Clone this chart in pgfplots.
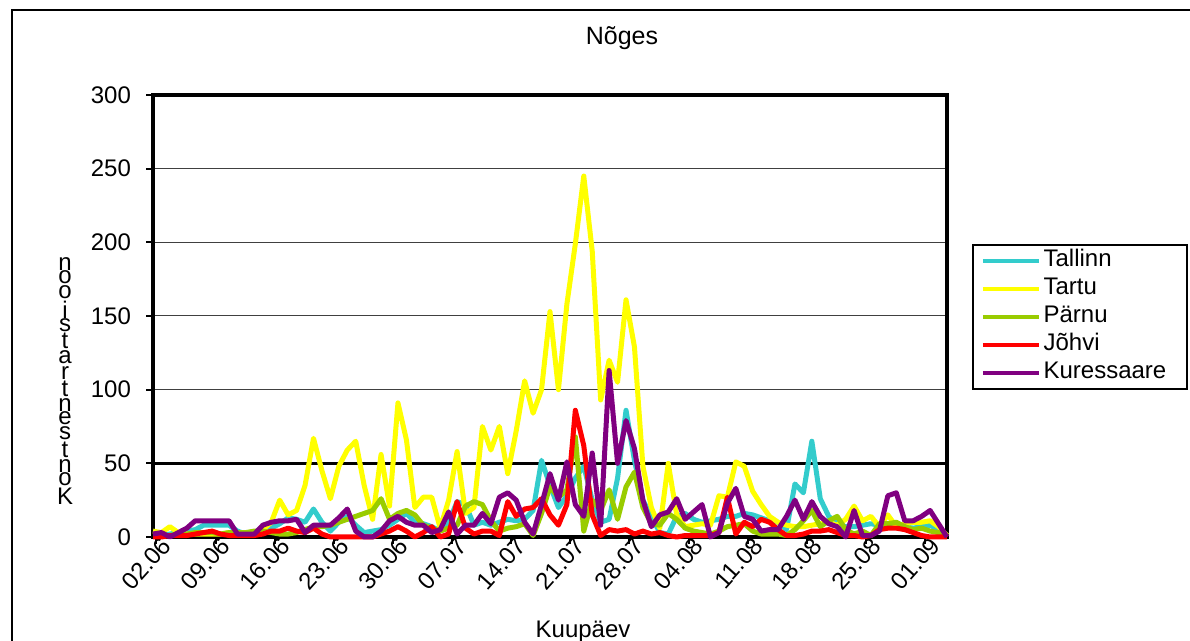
\documentclass[border=0pt]{standalone}
\usepackage{pgfplots}
\pgfplotsset{compat=1.18}
\usepackage{pgfplotstable}
\usepackage{fontspec}
\setmainfont{Liberation Sans}
\definecolor{ctal}{RGB}{51,204,204}
\definecolor{ctar}{RGB}{255,255,0}
\definecolor{cpar}{RGB}{153,204,0}
\definecolor{cjoh}{RGB}{255,0,0}
\definecolor{ckur}{RGB}{128,0,128}

\pgfplotstableread{
j tal tar par joh kur
0 1 4 1 0 2
1 1 3 1 0 3
2 2 7 1 1 0
3 3 3 2 1 3
4 4 2 2 1 6
5 5 2 3 2 11
6 8 2 3 3 11
7 8 2 3 4 11
8 8 2 2 2 11
9 8 3 3 1 11
10 4 2 3 1 2
11 2 2 3 1 2
12 2 3 4 1 2
13 3 5 4 2 8
14 6 10 3 4 10
15 9 25 2 4 11
16 13 15 2 6 11
17 12 18 3 4 12
18 10 35 5 3 3
19 19 67 7 6 8
20 10 45 7 2 8
21 4 26 8 0 8
22 10 48 10 0 13
23 14 59 12 0 19
24 8 65 14 0 4
25 3 35 16 0 0
26 4 12 18 0 0
27 5 56 26 2 4
28 8 21 12 4 11
29 12 91 16 7 14
30 16 66 18 4 10
31 10 20 15 0 8
32 9 27 8 3 8
33 7 27 6 7 3
34 4 6 4 0 5
35 10 25 6 2 17
36 24 58 8 24 2
37 22 16 21 6 8
38 8 20 24 2 8
39 10 75 22 4 16
40 8 59 11 4 9
41 10 75 4 1 27
42 12 43 6 24 30
43 11 72 7 14 25
44 12 106 9 19 10
45 18 84 1 20 2
46 52 100 16 26 22
47 35 153 34 15 43
48 20 100 27 8 25
49 28 158 32 22 51
50 40 199 68 86 22
51 48 245 4 62 14
52 25 194 25 15 57
53 10 93 18 1 8
54 12 120 32 5 113
55 40 105 12 4 50
56 86 161 34 5 79
57 52 129 44 2 60
58 25 48 20 4 25
59 14 20 9 2 7
60 3 6 8 3 15
61 2 50 16 1 17
62 14 15 12 0 26
63 16 7 6 1 12
64 12 8 4 1 17
65 10 9 3 1 22
66 11 8 2 1 0
67 12 28 4 3 3
68 14 27 7 27 23
69 14 51 8 2 33
70 16 48 9 10 14
71 15 31 4 7 12
72 13 22 2 12 4
73 11 14 2 10 5
74 10 10 2 5 5
75 5 8 1 1 14
76 36 7 5 1 25
77 30 7 11 2 12
78 65 8 18 4 24
79 26 9 7 4 14
80 14 10 11 5 9
81 9 8 14 3 7
82 7 12 5 1 0
83 7 21 2 1 18
84 8 11 4 0 1
85 9 14 1 1 1
86 8 7 9 5 4
87 7 15 9 6 28
88 7 7 10 6 30
89 7 9 7 5 11
90 6 10 5 3 11
91 7 10 6 1 14
92 8 11 4 0 18
93 5 7 3 0 9
94 1 1 0 0 0
}\data

\begin{document}
\begin{tikzpicture}
\useasboundingbox (0,0) rectangle (595pt,320.5pt);
\draw[line width=1pt] (6pt,-5pt) -- (6pt,315.5pt) -- (600pt,315.5pt);
\begin{axis}[
  at={(76.5pt,52pt)}, anchor=south west, scale only axis,
  width=397pt, height=221pt,
  xmin=0, xmax=94, ymin=0, ymax=300,
  clip=false,
  xtick={0.4,7.4,14.4,21.4,28.4,35.4,42.4,49.4,56.4,63.4,70.4,77.4,84.4,91.4},
  xticklabels={02.06,09.06,16.06,23.06,30.06,07.07,14.07,21.07,28.07,04.08,11.08,18.08,25.08,01.09},
  ytick={0,100,150,200,250,300},
  extra y ticks={50},
  extra y tick style={major grid style={black,line width=1.6pt}},
  ymajorgrids, major grid style={black!75,line width=0.5pt},
  tick align=outside, major tick length=3.5pt,
  tick style={black,line width=1pt},
  xtick pos=left, ytick pos=left,
  axis line style={line width=1.6pt},
  /pgf/number format/assume math mode=true,
  yticklabel style={font=\fontsize{12}{14}\selectfont, xshift=-4pt},
  xticklabel style={font=\fontsize{12}{14}\selectfont, rotate=48, anchor=east, inner sep=0pt, xshift=4.5pt, yshift=-3pt},
  title={Nõges},
  title style={at={(axis description cs:0.5907,1.086)}, anchor=base, font=\fontsize{12.5}{14}\selectfont},
  xlabel={Kuupäev},
  xlabel style={at={(axis description cs:0.5416,-0.2285)}, anchor=base, font=\fontsize{12}{14}\selectfont},
  every axis y label/.style={at={(axis description cs:-0.1108,0.353)}, anchor=center, align=center, font=\fontsize{12}{6.5}\selectfont},
  ylabel={n\\o\\o\\i\\s\\t\\a\\r\\t\\n\\e\\s\\t\\n\\o\\K},
  legend style={at={(1.0315,0.6629)}, anchor=north west, draw=black, line width=1pt,
    font=\fontsize{12}{14}\selectfont, row sep=0pt, inner xsep=4pt, inner ysep=1pt,
    nodes={text height=8.5pt, text depth=2.5pt, inner sep=1.5pt},
    /tikz/every even column/.append style={text width=66pt}},
  legend cell align=left,
  legend image code/.code={\draw[#1, line width=1.8pt] (0pt,0pt) -- (28pt,0pt);},
  every axis plot/.append style={line width=2.5pt, line join=round},
]
\addplot[ctal] table[x=j, y=tal] {\data};
\addlegendentry{Tallinn}
\addplot[ctar] table[x=j, y=tar] {\data};
\addlegendentry{Tartu}
\addplot[cpar] table[x=j, y=par] {\data};
\addlegendentry{Pärnu}
\addplot[cjoh] table[x=j, y=joh] {\data};
\addlegendentry{Jõhvi}
\addplot[ckur] table[x=j, y=kur] {\data};
\addlegendentry{Kuressaare}
\end{axis}
\end{tikzpicture}
\end{document}
